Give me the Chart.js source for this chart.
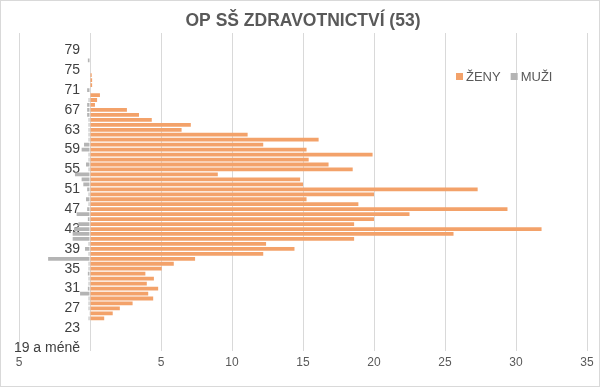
<!DOCTYPE html>
<html>
<head>
<meta charset="utf-8">
<script src="https://cdn.jsdelivr.net/npm/chart.js@4/dist/chart.umd.min.js"></script>
<style>
  html, body { margin: 0; padding: 0; background: #fff; }
  #wrap { width: 600px; height: 387px; box-sizing: border-box; border: 1px solid #d9d9d9; }
</style>
</head>
<body>
<div id="wrap"><canvas id="myChart"></canvas></div>
<script>
const ages = [
  '19 a méně', '20', '21', '22', '23', '24', '25', '26', '27', '28', '29',
  '30', '31', '32', '33', '34', '35', '36', '37', '38', '39',
  '40', '41', '42', '43', '44', '45', '46', '47', '48', '49',
  '50', '51', '52', '53', '54', '55', '56', '57', '58', '59',
  '60', '61', '62', '63', '64', '65', '66', '67', '68', '69',
  '70', '71', '72', '73', '74', '75', '76', '77', '78', '79',
  '80', '81', '82'
];

// zeny (kladne)
const women = [
  0, 0, 0, 0, 0, 0, 1.0, 1.6, 2.1, 3.0, 4.45,
  4.1, 4.8, 4.0, 4.5, 3.9, 5.05, 5.9, 7.4, 12.2, 14.4,
  12.4, 18.6, 25.6, 31.8, 18.6, 20.0, 22.5, 29.4, 18.9, 15.25,
  20.0, 27.3, 15.0, 14.8, 9.0, 18.5, 16.8, 15.4, 19.9, 15.25,
  12.2, 16.1, 11.1, 6.45, 7.1, 4.35, 3.45, 2.6, 0.35, 0.5,
  0.7, 0, 0.15, 0.15, 0.12, 0, 0, 0, 0, 0,
  0, 0, 0
];

// muzi (kreslime doleva)
const men = [
  0, 0, 0, 0, 0, 0, 0.1, 0.05, 0.1, 0.1, 0.1,
  0.7, 0.15, 0.1, 0.1, 0.15, 0.1, 0.1, 2.95, 0.1, 0.35,
  0.1, 1.22, 1.22, 1.13, 0.82, 0.15, 0.94, 0.2, 0.1, 0.28,
  0.1, 0.2, 0.47, 0.59, 1.06, 0.1, 0.28, 0.1, 0.1, 0.59,
  0.42, 0.1, 0.1, 0.1, 0.1, 0.1, 0.2, 0.2, 0.2, 0.1,
  0, 0.2, 0, 0, 0, 0, 0, 0.15, 0, 0,
  0, 0, 0
];

const xTicks = [-5, 0, 5, 10, 15, 20, 25, 30, 35];

const womenColor = '#F3A26A';
const menColor = '#B4B4B4';
const fontFamily = "'Liberation Sans', Arial, sans-serif";

const insideLegend = {
  id: 'insideLegend',
  afterDraw(chart) {
    const ctx = chart.ctx;
    const items = [
      { text: 'ŽENY', color: womenColor },
      { text: 'MUŽI', color: menColor }
    ];
    ctx.save();
    ctx.font = '13px ' + fontFamily;
    ctx.textBaseline = 'middle';
    let x = 455;
    const y = 76;
    items.forEach(item => {
      ctx.fillStyle = item.color;
      ctx.fillRect(x, y - 4, 7, 7);
      ctx.fillStyle = '#595959';
      ctx.fillText(item.text, x + 10, y);
      x += 10 + ctx.measureText(item.text).width + 10;
    });
    ctx.restore();
  }
};

const data = {
  labels: ages,
  datasets: [
    {
      label: 'ŽENY',
      data: women,
      backgroundColor: womenColor,
      categoryPercentage: 1,
      barPercentage: 0.76
    },
    {
      label: 'MUŽI',
      data: men.map(v => -v),
      backgroundColor: menColor,
      categoryPercentage: 1,
      barPercentage: 0.76
    }
  ]
};

const config = {
  type: 'bar',
  data: data,
  options: {
    indexAxis: 'y',
    responsive: true,
    maintainAspectRatio: false,
    animation: false,
    layout: {
      padding: { left: 18, right: 12, top: 0, bottom: 11 }
    },
    scales: {
      x: {
        stacked: true,
        min: -5,
        max: 35,
        afterBuildTicks: axis => { axis.ticks = xTicks.map(v => ({ value: v })); },
        grid: { color: '#d9d9d9', drawTicks: false },
        border: { display: false },
        ticks: {
          padding: 5,
          color: '#595959',
          font: { size: 12, family: fontFamily },
          callback: v => (v === 0 ? '' : Math.abs(v))
        }
      },
      y: {
        stacked: true,
        reverse: true,
        // popisky vekem hned vlevo od nuly
        position: { x: -0.7 },
        grid: { display: false },
        border: { display: false },
        ticks: {
          autoSkip: false,
          padding: 0,
          color: '#404040',
          font: { size: 14, family: fontFamily },
          callback: function (value, index) {
            return index % 4 === 0 ? this.getLabelForValue(value) : '';
          }
        }
      }
    },
    plugins: {
      title: {
        display: true,
        text: 'OP SŠ ZDRAVOTNICTVÍ (53)',
        color: '#595959',
        font: { size: 17.5, weight: 'bold', family: fontFamily },
        padding: { top: 10, bottom: 1 }
      },
      legend: { display: false },
      tooltip: { enabled: false }
    }
  },
  plugins: [insideLegend]
};

new Chart(
  document.getElementById('myChart'),
  config
);
</script>
</body>
</html>
